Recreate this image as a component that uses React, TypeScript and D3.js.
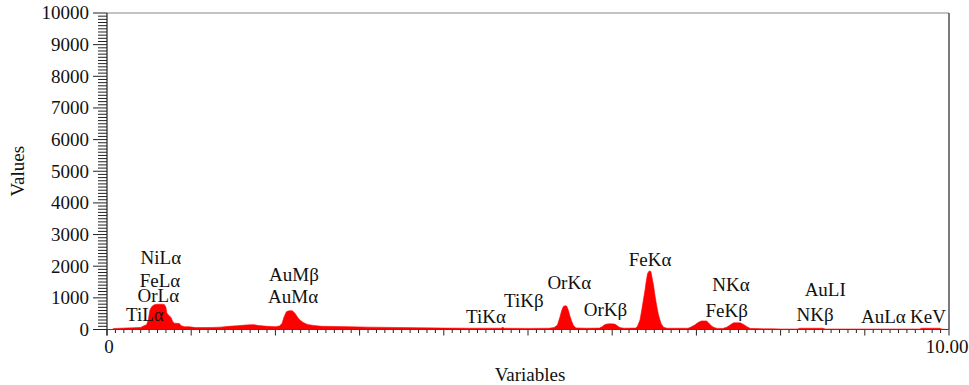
import React from 'react';
import * as d3 from 'd3';

// ---- data ----
// spectrum points: [energy keV, counts]
const spectrum: [number, number][] = [
  [0.0, 0], [0.06, 0], [0.08, 30], [0.16, 40], [0.24, 50], [0.32, 55], [0.4, 65], [0.44, 120],
  [0.47, 150], [0.49, 300], [0.51, 620], [0.53, 720], [0.56, 780], [0.6, 800], [0.64, 800],
  [0.68, 790], [0.7, 700], [0.71, 520], [0.73, 460], [0.76, 380], [0.78, 250], [0.8, 200],
  [0.86, 190], [0.88, 120], [0.92, 90], [0.98, 85], [1.05, 60], [1.15, 60], [1.25, 65],
  [1.35, 75], [1.45, 100], [1.55, 120], [1.65, 140], [1.7, 150], [1.75, 150], [1.8, 125],
  [1.9, 100], [2.0, 90], [2.05, 110], [2.08, 200], [2.1, 380], [2.13, 560], [2.16, 590],
  [2.2, 590], [2.23, 520], [2.26, 400], [2.29, 300], [2.33, 220], [2.38, 160], [2.45, 130],
  [2.55, 100], [2.7, 95], [2.9, 85], [3.1, 75], [3.4, 65], [3.7, 55], [4.0, 45], [4.3, 40],
  [4.5, 40], [4.68, 40], [4.7, 70], [4.72, 40], [5.0, 35], [5.25, 40], [5.31, 60], [5.35, 140],
  [5.38, 400], [5.4, 600], [5.42, 730], [5.44, 750], [5.46, 740], [5.48, 600], [5.5, 410],
  [5.52, 250], [5.54, 130], [5.57, 50], [5.7, 40], [5.85, 45], [5.88, 90], [5.91, 150],
  [5.94, 175], [5.98, 180], [6.03, 170], [6.06, 120], [6.09, 60], [6.14, 40], [6.28, 45],
  [6.3, 100], [6.33, 300], [6.35, 600], [6.37, 930], [6.39, 1250], [6.4, 1450], [6.42, 1770],
  [6.44, 1850], [6.46, 1830], [6.47, 1680], [6.49, 1410], [6.51, 1040], [6.53, 730], [6.55, 460],
  [6.58, 190], [6.61, 70], [6.65, 40], [6.9, 40], [6.93, 70], [6.98, 140], [7.02, 220],
  [7.06, 270], [7.12, 270], [7.14, 220], [7.18, 110], [7.21, 60], [7.25, 35], [7.31, 30],
  [7.36, 70], [7.4, 140], [7.44, 210], [7.52, 210], [7.56, 160], [7.6, 90], [7.64, 35],
  [7.7, 30], [7.8, 20], [7.9, 20], [8.0, 15], [8.2, 15], [8.23, 40], [8.5, 40], [8.53, 15],
  [9.65, 15], [9.68, 40], [9.89, 40], [9.92, 10], [10.0, 0],
];

const peakNames = ['TiLα', 'NiLα', 'FeLα', 'OrLα', 'AuMβ', 'AuMα', 'TiKα', 'TiKβ', 'OrKα', 'OrKβ',
  'FeKα', 'NKα', 'FeKβ', 'AuLI', 'NKβ', 'AuLα', 'KeV'];
const peakKeV = [0.45, 0.64, 0.63, 0.61, 2.22, 2.21, 4.5, 4.95, 5.49, 5.92,
  6.45, 7.41, 7.36, 8.53, 8.41, 9.22, 9.75];
const peakLabelCounts = [280, 2060, 1350, 860, 1530, 840, 215, 710, 1280, 430,
  2020, 1230, 400, 1070, 270, 215, 215];

const xTickLabels: [number, string][] = [[0, '0'], [10, '10.00']];
const yTickLabels = ['0', '1000', '2000', '3000', '4000', '5000', '6000', '7000', '8000', '9000', '10000'];

const FONT = '"Liberation Serif", "Times New Roman", serif';

export default function App() {
  const x = d3.scaleLinear().domain([0, 10]).range([107, 949]);
  const y = d3.scaleLinear().domain([0, 10000]).range([329.5, 13]);
  const area = d3
    .area<[number, number]>()
    .x((d) => x(d[0]))
    .y0(y(0))
    .y1((d) => y(d[1]))
    .curve(d3.curveLinear);

  const xMinor = d3.range(0, 101).map((i) => i / 10);
  const yMinor = d3.range(0, 101).map((i) => i * 100);
  const axisColor = '#222';
  const fs = 19;

  return (
    <svg
      width={969}
      height={385}
      style={{ position: 'absolute', left: 0, top: 0, background: '#fff', fontFamily: FONT }}
    >
      {/* frame */}
      <line x1={x(0)} x2={x(10)} y1={y(10000)} y2={y(10000)} stroke="#888" strokeWidth={1.2} />
      <line x1={x(10)} x2={x(10)} y1={y(10000)} y2={y(0)} stroke={axisColor} strokeWidth={1.2} />
      {/* x axis */}
      <line x1={x(0)} x2={x(10)} y1={y(0)} y2={y(0)} stroke={axisColor} strokeWidth={1.2} />
      {xMinor.map((v, i) => (
        <line
          key={'xm' + i}
          x1={x(v)}
          x2={x(v)}
          y1={y(0)}
          y2={y(0) + (i % 10 === 0 ? 6 : 3.5)}
          stroke={axisColor}
          strokeWidth={1}
        />
      ))}
      {/* y axis */}
      <line x1={x(0)} x2={x(0)} y1={y(10000)} y2={y(0) + 6} stroke={axisColor} strokeWidth={1.2} />
      {yMinor.map((v, i) => (
        <line
          key={'ym' + i}
          x1={x(0) - (i % 10 === 0 ? 14 : 9)}
          x2={x(0)}
          y1={y(v)}
          y2={y(v)}
          stroke={axisColor}
          strokeWidth={1}
        />
      ))}
      {yTickLabels.map((t) => (
        <text
          key={'yl' + t}
          x={x(0) - 18}
          y={y(+t)}
          dy="0.34em"
          textAnchor="end"
          fontSize={fs}
          fill="#111"
        >
          {t}
        </text>
      ))}
      {xTickLabels.map(([v, t]) => (
        <text key={'xl' + t} x={x(v) + (v === 0 ? 2 : -2)} y={353} textAnchor="middle" fontSize={fs} fill="#111">
          {t}
        </text>
      ))}
      {/* spectrum */}
      <path d={area(spectrum) || ''} fill="#ff0000" stroke="#ff0000" strokeWidth={0.6} />
      {/* peak labels */}
      {peakNames.map((n, i) => (
        <text
          key={'pk' + i}
          x={x(peakKeV[i])}
          y={y(peakLabelCounts[i])}
          textAnchor="middle"
          fontSize={fs}
          fill="#111"
        >
          {n}
        </text>
      ))}
      {/* axis titles */}
      <text x={530} y={381} textAnchor="middle" fontSize={fs} fill="#111">
        Variables
      </text>
      <text
        transform={`translate(24, ${(y(0) + y(10000)) / 2}) rotate(-90)`}
        textAnchor="middle"
        fontSize={fs}
        fill="#111"
      >
        Values
      </text>
    </svg>
  );
}
